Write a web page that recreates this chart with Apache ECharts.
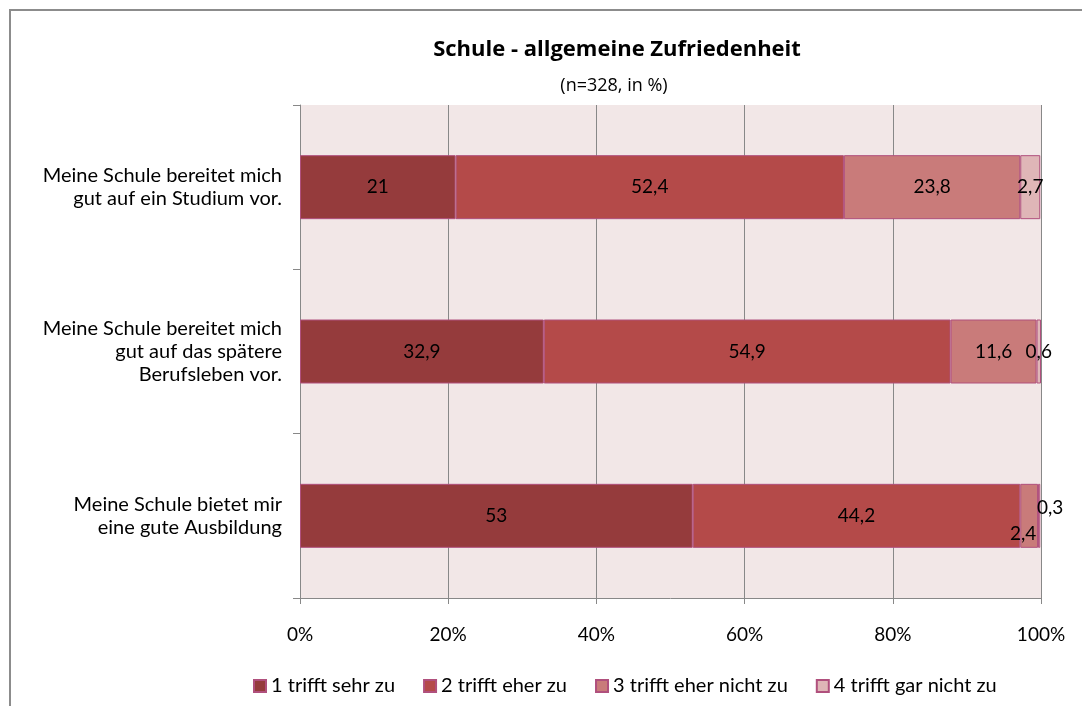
<!DOCTYPE html>
<html><head><meta charset="utf-8">
<script src="https://cdn.jsdelivr.net/npm/echarts@6/dist/echarts.min.js"></script>
<style>html,body{margin:0;padding:0;background:#fff}#c{width:1082px;height:706px}</style>
</head><body><div id="c"></div>
<script>
const categories = [
  "Meine Schule bereitet mich\ngut auf ein Studium vor.",
  "Meine Schule bereitet mich\ngut auf das spätere\nBerufsleben vor.",
  "Meine Schule bietet mir\neine gute Ausbildung"
];
const seriesNames = ["1 trifft sehr zu", "2 trifft eher zu", "3 trifft eher nicht zu", "4 trifft gar nicht zu"];
const s1 = [21, 32.9, 53];
const s2 = [52.4, 54.9, 44.2];
const s3 = [23.8, 11.6, 2.4];
const s4 = [2.7, 0.6, 0.3];
const xTicks = [0, 20, 40, 60, 80, 100];

const colors = ["#953B3C", "#B44A49", "#C97B7A", "#DFB6B7"];
const FONT = "Lato, 'Liberation Sans', sans-serif";
const TFONT = "'Open Sans', Lato, sans-serif";
const FS = 19;
const fmt = v => String(v).replace('.', ',');

const chart = echarts.init(document.getElementById('c'));
const allData = [s1, s2, s3, s4];
const labelTweaks = { "2-2": { offset: [-6, 18] }, "3-2": { offset: [11, -8] } };

chart.setOption({
  animation: false,
  backgroundColor: '#fff',
  textStyle: { fontFamily: FONT },
  title: [{
    text: 'Schule - allgemeine Zufriedenheit',
    left: 612, textAlign: 'center', top: 34,
    textStyle: { fontFamily: TFONT, fontSize: 22, fontWeight: 'bold', color: '#000' }
  }, {
    text: '(n=328, in %)',
    left: 609, textAlign: 'center', top: 72,
    textStyle: { fontFamily: TFONT, fontSize: 18, fontWeight: 'normal', color: '#000' }
  }],
  graphic: [{
    type: 'rect', shape: { x: 10, y: 10, width: 1200, height: 800 },
    style: { fill: 'none', stroke: '#8c8c8c', lineWidth: 2 }, silent: true
  }],
  legend: {
    top: 671, left: 248, itemWidth: 12, itemHeight: 12, itemGap: 28,
    icon: 'rect',
    textStyle: { fontFamily: FONT, fontSize: 20, color: '#000' },
    data: seriesNames
  },
  grid: { left: 300, right: 41, top: 105, bottom: 108, containLabel: false, show: true, backgroundColor: '#F2E7E7', borderWidth: 0 },
  xAxis: {
    type: 'value', min: 0, max: 100, interval: 20,
    axisLine: { show: true, lineStyle: { color: '#888' } },
    axisTick: { show: true, length: 6, lineStyle: { color: '#888' } },
    splitLine: { show: true, lineStyle: { color: '#888', width: 1 } },
    axisLabel: { fontFamily: FONT, fontSize: FS, color: '#000', margin: 27, formatter: v => xTicks.includes(v) ? v + '%' : '' }
  },
  yAxis: {
    type: 'category', data: categories, inverse: true,
    axisLine: { show: true, lineStyle: { color: '#888' } },
    axisTick: { show: true, length: 7, lineStyle: { color: '#888' } },
    axisLabel: { fontFamily: FONT, fontSize: 20, color: '#000', lineHeight: 23, margin: 18, align: 'right' }
  },
  series: allData.map((arr, si) => ({
    name: seriesNames[si], type: 'bar', stack: 'total', barWidth: 64,
    itemStyle: { color: colors[si], borderColor: '#B0507D', borderWidth: 1 },
    label: { show: true, position: 'inside', fontFamily: FONT, fontSize: FS, color: '#000', formatter: p => fmt(p.value) },
    data: arr.map((v, i) => {
      const t = labelTweaks[si + '-' + i];
      return t ? { value: v, label: { offset: t.offset } } : v;
    })
  }))
});
</script></body></html>
